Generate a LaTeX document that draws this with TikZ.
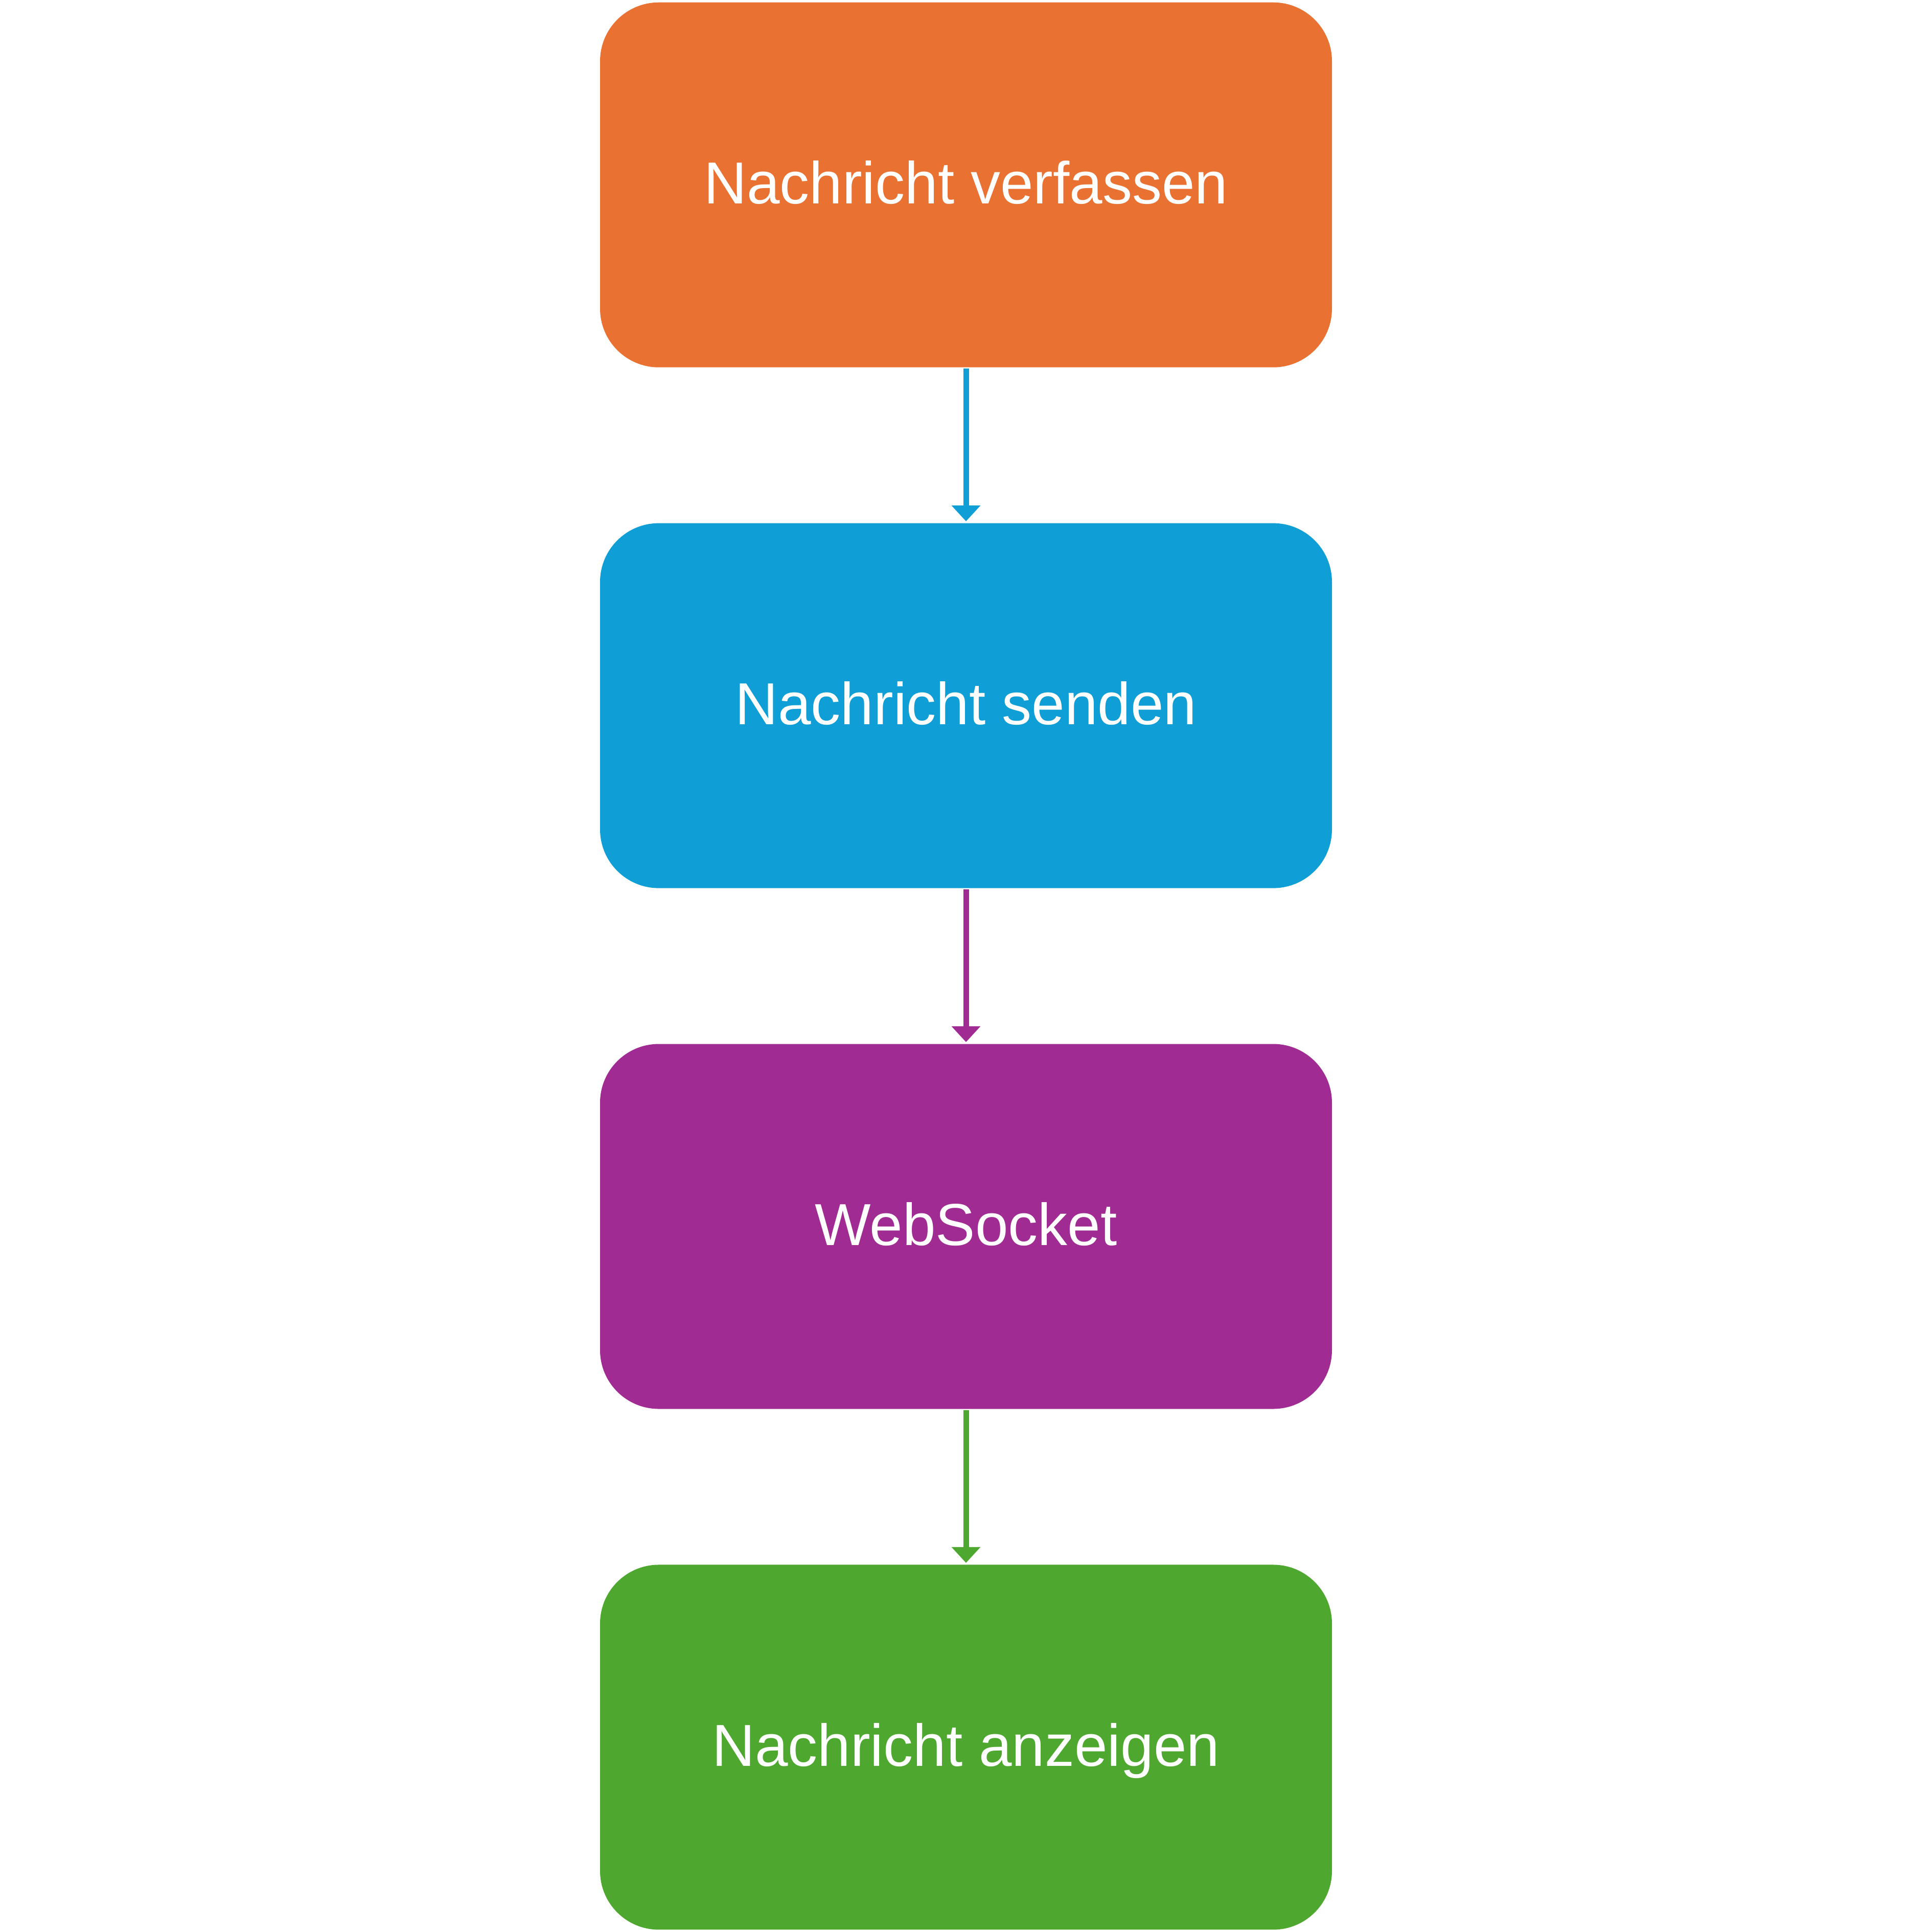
\documentclass[tikz,border=0pt]{standalone}
\usepackage{fontspec}
\setmainfont{Liberation Sans}
\usetikzlibrary{positioning,arrows.meta}

\definecolor{orangeStep}{HTML}{E97132}
\definecolor{blueStep}{HTML}{0F9ED5}
\definecolor{purpleStep}{HTML}{A02B93}
\definecolor{greenStep}{HTML}{4EA72E}

\tikzset{
    stepbox/.style={rectangle, rounded corners=1.15cm, minimum width=14.32cm,
        minimum height=7.14cm, inner sep=0pt, text height=24pt, text depth=3pt,
        text=white, font=\fontsize{33}{40}\selectfont},
    flow/.style={line width=0.11cm, shorten <=0.02cm, shorten >=0.03cm,
        -{Triangle[width=0.55cm, length=0.31cm]}}
}

\begin{document}
\begin{tikzpicture}[node distance=3.035cm]
        \useasboundingbox (0, 0) rectangle (37.8, -37.8);
        \node[stepbox, fill=orangeStep, anchor=north] (compose) at (18.9, -0.04){Nachricht verfassen};
        \node[stepbox, fill=blueStep, below=of compose] (send){Nachricht senden};
        \node[stepbox, fill=purpleStep, below=of send] (socket){WebSocket};
        \node[stepbox, fill=greenStep, below=of socket] (show){Nachricht anzeigen};

        \draw[flow, blueStep] (compose) -- (send);
        \draw[flow, purpleStep] (send) -- (socket);
        \draw[flow, greenStep] (socket) -- (show);
    \end{tikzpicture}
\end{document}
